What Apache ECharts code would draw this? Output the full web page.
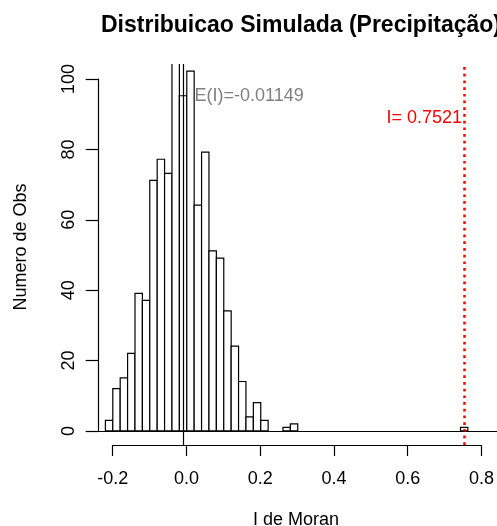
<!DOCTYPE html>
<html>
<head>
<meta charset="utf-8">
<script src="https://cdn.jsdelivr.net/npm/echarts@6/dist/echarts.min.js"></script>
<style>
html, body { margin: 0; padding: 0; background: #fff; }
#container { width: 497px; height: 526px; }
</style>
</head>
<body>
<div id="container"></div>
<script>
// histograma das simulacoes (breaks de 0.02)
var binLeft = [-0.22, -0.20, -0.18, -0.16, -0.14, -0.12, -0.10, -0.08, -0.06, -0.04, -0.02, 0.00,
               0.02, 0.04, 0.06, 0.08, 0.10, 0.12, 0.14, 0.16, 0.18, 0.20, 0.26, 0.28, 0.74];
var binRight = [-0.20, -0.18, -0.16, -0.14, -0.12, -0.10, -0.08, -0.06, -0.04, -0.02, 0.00, 0.02,
                0.04, 0.06, 0.08, 0.10, 0.12, 0.14, 0.16, 0.18, 0.20, 0.22, 0.28, 0.30, 0.76];
var counts = [3, 12, 15, 22, 39, 37, 71, 77, 73, 120, 95, 102,
              64, 79, 51, 49, 34, 24, 14, 4, 8, 3, 1, 2, 1];
var xTicks = [-0.2, 0.0, 0.2, 0.4, 0.6, 0.8];
var yTicks = [0, 20, 40, 60, 80, 100];
var esperado = -0.01149;   // E(I)
var observado = 0.7521;    // I de Moran observado

var dom = document.getElementById("container");
var myChart = echarts.init(dom);
var fonte = "'Liberation Sans', Arial, sans-serif";
option = null;

var barras = [];
for (var i = 0; i < counts.length; i++) {
    barras.push([binLeft[i], binRight[i], counts[i]]);
}

var textos = [[esperado, 95, 'E(I)=' + esperado, '#808080', 'left', 12],
              [observado, 88.8, 'I= ' + observado, '#ff0000', 'right', -3]];

option = {
    animation: false,
    backgroundColor: '#fff',
    title: {
        text: 'Distribuicao Simulada (Precipitação)',
        left: 296,
        top: 9,
        textAlign: 'center',
        textStyle: { fontFamily: fonte, fontSize: 23, fontWeight: 'bold', color: '#000' }
    },
    grid: [
        // regiao do grafico (com a folga de 4% do R)
        { left: 98, right: 0, top: 64, bottom: 81 },
        // eixos desenhados so entre os ticks
        { left: 112.7, right: 14.3, top: 79, bottom: 95 }
    ],
    xAxis: [
        { gridIndex: 0, type: 'value', min: -0.24, max: 0.8387, show: false },
        {
            gridIndex: 1, type: 'value', min: xTicks[0], max: xTicks[xTicks.length - 1], interval: 0.2,
            position: 'bottom', offset: 14,
            axisLine: { onZero: false, lineStyle: { color: '#000', width: 1.2 } },
            axisTick: { length: 11, lineStyle: { color: '#000', width: 1.2 } },
            splitLine: { show: false },
            axisLabel: {
                margin: 25, fontFamily: fonte, fontSize: 18, color: '#000',
                formatter: function (v) { return v.toFixed(1); }
            }
        }
    ],
    yAxis: [
        { gridIndex: 0, type: 'value', min: -4, max: 104, show: false },
        {
            gridIndex: 1, type: 'value', min: yTicks[0], max: yTicks[yTicks.length - 1], interval: 20,
            position: 'left', offset: 14,
            axisLine: { show: true, onZero: false, lineStyle: { color: '#000', width: 1.2 } },
            axisTick: { show: true, length: 13, lineStyle: { color: '#000', width: 1.2 } },
            splitLine: { show: false },
            axisLabel: { margin: 21, rotate: 90, fontFamily: fonte, fontSize: 18, color: '#000' }
        }
    ],
    graphic: [
        {
            type: 'text', position: [296, 520],
            style: { text: 'I de Moran', fontFamily: fonte, fontSize: 18, fill: '#000',
                     textAlign: 'center', textVerticalAlign: 'middle' }
        },
        {
            type: 'text', position: [21, 247], rotation: Math.PI / 2,
            style: { text: 'Numero de Obs', fontFamily: fonte, fontSize: 18, fill: '#000',
                     textAlign: 'center', textVerticalAlign: 'middle' }
        }
    ],
    series: [
        {
            name: 'hist',
            type: 'custom',
            xAxisIndex: 0,
            yAxisIndex: 0,
            clip: true,
            data: barras,
            renderItem: function (params, api) {
                var p0 = api.coord([api.value(0), api.value(2)]);
                var p1 = api.coord([api.value(1), 0]);
                return {
                    type: 'rect',
                    shape: { x: p0[0], y: p0[1], width: p1[0] - p0[0], height: p1[1] - p0[1] },
                    style: { fill: '#fff', stroke: '#000', lineWidth: 1.2 }
                };
            },
            markLine: {
                silent: true,
                symbol: 'none',
                label: { show: false },
                data: [
                    { yAxis: 0, lineStyle: { color: '#000', width: 1.2, type: 'solid' } },
                    { xAxis: esperado, lineStyle: { color: '#000', width: 1.2, type: 'solid' } },
                    { xAxis: observado, lineStyle: { color: '#ff0000', width: 2.5, type: [2.7, 4] } }
                ]
            }
        },
        {
            name: 'textos',
            type: 'custom',
            xAxisIndex: 0,
            yAxisIndex: 0,
            data: textos,
            renderItem: function (params, api) {
                var d = textos[params.dataIndex];
                var p = api.coord([d[0], d[1]]);
                return {
                    type: 'text',
                    x: p[0] + d[5],
                    y: p[1],
                    style: { text: d[2], fill: d[3], fontFamily: fonte, fontSize: 18,
                             textAlign: d[4], textVerticalAlign: 'middle' }
                };
            }
        }
    ]
};

if (option && typeof option === "object") {
    myChart.setOption(option, true);
}
</script>
</body>
</html>
